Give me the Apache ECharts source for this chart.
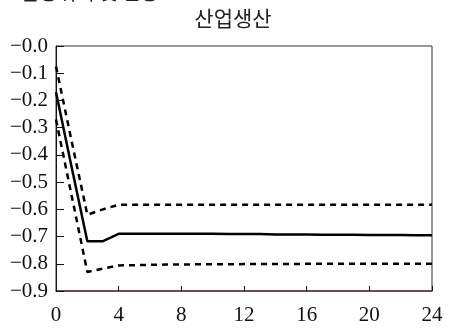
<!DOCTYPE html>
<html>
<head>
<meta charset="utf-8">
<script src="https://cdn.jsdelivr.net/npm/echarts@6/dist/echarts.min.js"></script>
<style>
  html, body { margin: 0; padding: 0; background: #fff; }
  #chart { width: 452px; height: 329px; }
</style>
</head>
<body>
<div id="chart"></div>
<script>
// Impulse response of industrial production (months 0..24)
const months = [0,1,2,3,4,5,6,7,8,9,10,11,12,13,14,15,16,17,18,19,20,21,22,23,24];
const response = [-0.17,-0.445,-0.717,-0.717,-0.69,-0.69,-0.69,-0.69,-0.69,-0.69,-0.69,-0.691,-0.691,-0.691,-0.692,-0.692,-0.692,-0.693,-0.693,-0.693,-0.694,-0.694,-0.694,-0.695,-0.695];
const upperBand = [-0.075,-0.35,-0.62,-0.60,-0.583,-0.583,-0.583,-0.583,-0.583,-0.583,-0.583,-0.583,-0.583,-0.583,-0.583,-0.583,-0.583,-0.583,-0.583,-0.583,-0.583,-0.583,-0.583,-0.583,-0.583];
const lowerBand = [-0.27,-0.55,-0.83,-0.818,-0.806,-0.805,-0.804,-0.803,-0.803,-0.802,-0.802,-0.802,-0.801,-0.801,-0.801,-0.801,-0.8,-0.8,-0.8,-0.8,-0.8,-0.8,-0.8,-0.8,-0.8];
const xTicks = [0,4,8,12,16,20,24];
const yTicks = [0,-0.1,-0.2,-0.3,-0.4,-0.5,-0.6,-0.7,-0.8,-0.9];

const pair = arr => months.map((m, i) => [m, arr[i]]);
const fmtY = v => '\u2212' + Math.abs(v).toFixed(1);
const serif = 'Liberation Serif';
const kr = 'Noto Sans CJK KR';

const chart = echarts.init(document.getElementById('chart'), null, { renderer: 'canvas' });
chart.setOption({
  animation: false,
  backgroundColor: '#fff',
  graphic: [
    // section heading, running off the top edge
    { type: 'text', x: 0, y: -18,
      style: { text: '3. 금융위기 및 신용', font: '20px "' + kr + '"', fill: '#222' } },
    { type: 'text', x: 233, y: 8,
      style: { text: '산업생산', font: '21px "' + kr + '"', fill: '#222', align: 'center' } }
  ],
  grid: { left: 56, right: 20, top: 46, bottom: 38, show: true, borderColor: '#333', borderWidth: 1 },
  xAxis: {
    type: 'value', min: xTicks[0], max: xTicks[xTicks.length - 1], interval: 4,
    axisLine: { onZero: false, lineStyle: { color: '#6b2a4c', width: 1.5 } },
    axisTick: { inside: true, length: 5, lineStyle: { color: '#111' } },
    axisLabel: { fontFamily: serif, fontSize: 21, color: '#111', margin: 14 },
    splitLine: { show: false }
  },
  yAxis: {
    type: 'value', min: yTicks[yTicks.length - 1], max: yTicks[0], interval: 0.1,
    axisLine: { show: true, lineStyle: { color: '#111' } },
    axisTick: { inside: true, length: 8, lineStyle: { color: '#111' } },
    axisLabel: { fontFamily: serif, fontSize: 21, color: '#111', margin: 8, formatter: fmtY },
    splitLine: { show: false }
  },
  series: [
    { type: 'line', data: pair(upperBand), showSymbol: false, lineStyle: { color: '#000', width: 2.5, type: [6, 5] } },
    { type: 'line', data: pair(lowerBand), showSymbol: false, lineStyle: { color: '#000', width: 2.5, type: [6, 5] } },
    { type: 'line', data: pair(response), showSymbol: false, lineStyle: { color: '#000', width: 2.5 } }
  ]
});
</script>
</body>
</html>
